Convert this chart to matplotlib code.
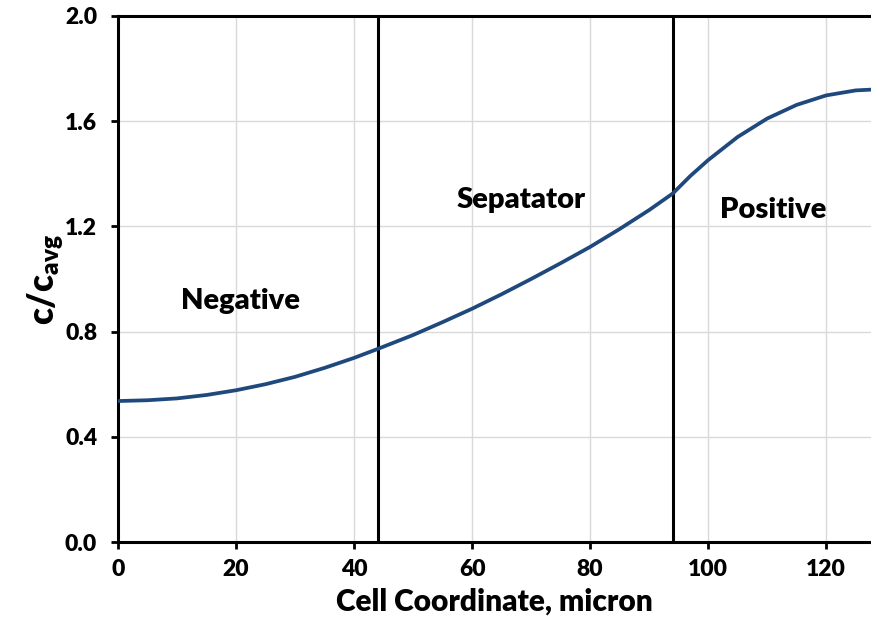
import matplotlib
matplotlib.use("Agg")
import matplotlib.pyplot as plt

plt.rcParams["font.family"] = ["Lato", "DejaVu Sans"]
plt.rcParams["font.weight"] = "heavy"
plt.rcParams["mathtext.fontset"] = "custom"
plt.rcParams["mathtext.rm"] = "Lato:heavy"
plt.rcParams["mathtext.it"] = "Lato:heavy"
plt.rcParams["mathtext.bf"] = "Lato:heavy"

# concentration profile across the cell
coord = [0, 5, 10, 15, 20, 25, 30, 35, 40, 44, 50, 55, 60, 65, 70, 75, 80,
         85, 90, 94, 97, 100, 105, 110, 115, 120, 125, 127.6]
conc = [0.536, 0.539, 0.546, 0.559, 0.577, 0.600, 0.628, 0.662, 0.700, 0.734,
        0.787, 0.836, 0.887, 0.942, 1.000, 1.060, 1.122, 1.190, 1.262, 1.325,
        1.392, 1.452, 1.540, 1.610, 1.662, 1.698, 1.717, 1.720]

# region boundaries
boundaries = [44, 94]
regions = ["Negative", "Sepatator", "Positive"]
region_pos = [(20.7, 0.916), (68.3, 1.30), (111.0, 1.262)]

xticks = [0, 20, 40, 60, 80, 100, 120]
yticks = [0.0, 0.4, 0.8, 1.2, 1.6, 2.0]

fig = plt.figure(figsize=(8.71, 6.29), dpi=100)
ax = fig.add_axes([0.1355, 0.1383, 0.8645, 0.8363])

ax.plot(coord, conc, color="#1F497D", lw=2.7, zorder=3)
for b in boundaries:
    ax.axvline(b, color="black", lw=2.2, zorder=2)

for name, (tx, ty) in zip(regions, region_pos):
    ax.text(tx, ty, name, fontsize=21, fontweight="heavy", ha="center", va="center")

ax.set_xlim(0, 127.6)
ax.set_ylim(0, 2.0)
ax.set_xticks(xticks)
ax.set_yticks(yticks)
ax.set_yticklabels([f"{v:.1f}" for v in yticks])
ax.grid(True, color="#d9d9d9", lw=1.0, zorder=0)
ax.set_axisbelow(True)

for side in ["left", "bottom", "top"]:
    ax.spines[side].set_linewidth(2.2)
ax.spines["right"].set_visible(False)
ax.tick_params(axis="both", direction="out", length=5, width=2,
               labelsize=16.5, pad=7)
ax.tick_params(axis="y", pad=10)

ax.set_xlabel("Cell Coordinate, micron", fontsize=21.5, fontweight="heavy", labelpad=6)
ax.set_ylabel(r"c/c$_{\mathrm{avg}}$", fontsize=25, fontweight="heavy", labelpad=0)

fig.savefig("out.png", dpi=100)
